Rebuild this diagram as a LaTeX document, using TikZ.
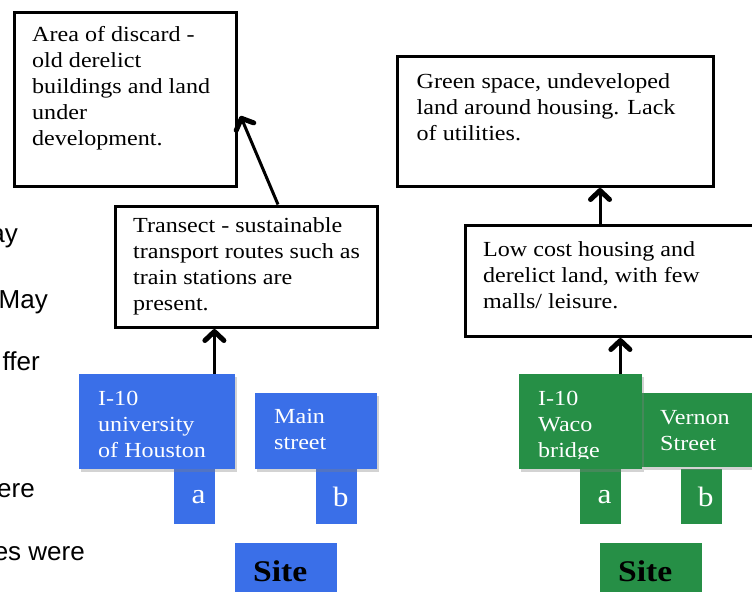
\documentclass[tikz,border=0pt]{standalone}
\usepackage{fontspec}
\setmainfont{Liberation Serif}[FakeStretch=1.12]
\newfontfamily\slidefont{Liberation Sans}
\usetikzlibrary{positioning,arrows.meta,shadows}
\definecolor{siteblue}{RGB}{58,111,232}
\definecolor{sitegreen}{RGB}{38,143,70}

\begin{document}
\begin{tikzpicture}[x=1pt,y=-1pt,
  box/.style={draw, line width=3pt, anchor=north west, inner sep=0pt},
  boxtext/.style={anchor=north west, align=left, inner sep=0pt, font=\fontsize{21.5}{26}\selectfont},
  sitebox/.style={anchor=north west, inner sep=0pt, drop shadow={opacity=0.35, shadow xshift=2pt, shadow yshift=-3pt}},
  sitetext/.style={boxtext, text=white},
  tab/.style={anchor=north west, inner sep=0pt, minimum width=41pt, minimum height=55pt, text=white, font=\fontsize{28}{28}\selectfont},
  label/.style={anchor=north west, inner sep=0pt, minimum width=102pt, minimum height=49pt},
  fragment/.style={anchor=base east, inner sep=0pt, font=\slidefont\fontsize{26}{26}\selectfont},
  up/.style={-{Straight Barb[length=9pt,width=19pt,line width=5pt,round]}, line width=3pt}]
\useasboundingbox (0,0) rectangle (752,592);

% cut-off slide text on the left
\node[fragment] (fa) at (18,242) {ay};
\node[fragment] (fb) at (48,308) {May};
\node[fragment] (fc) at (40,370) {ffer};
\node[fragment] (fd) at (35,497) {ere};
\node[fragment] (fe) at (85,560) {es were};

% white boxes
\node[box, minimum width=222pt, minimum height=174pt] (discard) at (12.5,10.5) {};
\node[boxtext] (discardtext) at ([shift={(19.5,16)}]discard.north west) {Area of discard -\\old derelict\\buildings and land\\under\\development.};
\node[box, minimum width=261.5pt, minimum height=121.5pt] (transect) at (114,204.5) {};
\node[boxtext] (transecttext) at ([shift={(19,13)}]transect.north west) {Transect - sustainable\\transport routes such as\\train stations are\\present.};
\node[box, minimum width=316pt, minimum height=130pt] (green) at (395.5,55) {};
\node[boxtext] (greentext) at ([shift={(21,18)}]green.north west) {Green space, undeveloped\\land around housing. Lack\\of utilities.};
\node[box, minimum width=320pt, minimum height=111.5pt] (lowcost) at (464,223.5) {};
\node[boxtext] (lowcosttext) at ([shift={(19,18)}]lowcost.north west) {Low cost housing and\\derelict land, with few\\malls/ leisure.};

% blue site
\node[tab, fill=siteblue] (taba) at (174,469) {\hspace*{8pt}a};
\node[tab, fill=siteblue] (tabb) at (316,469) {\hspace*{8pt}b};
\node[sitebox, fill=siteblue, minimum width=156pt, minimum height=95pt] (houston) at (79,374) {};
\node[sitetext] (houstontext) at ([shift={(19,17)}]houston.north west) {I-10\\university\\of Houston};
\node[sitebox, fill=siteblue, minimum width=122pt, minimum height=76pt] (main) at (255,393) {};
\node[sitetext] (maintext) at ([shift={(19,16)}]main.north west) {Main\\street};
\node[label, fill=siteblue] (siteblue) at (235,543) {};
\node[anchor=west, inner sep=0pt, font=\bfseries\fontsize{30}{30}\selectfont] (bluesite) at ([shift={(18,4)}]siteblue.west) {Site};

% green site
\node[tab, fill=sitegreen] (tabc) at (580,469) {\hspace*{8pt}a};
\node[tab, fill=sitegreen] (tabd) at (681,469) {\hspace*{8pt}b};
\node[sitebox, fill=sitegreen, minimum width=120pt, minimum height=74pt] (vernon) at (642,393) {};
\node[sitetext] (vernontext) at ([shift={(18,17)}]vernon.north west) {Vernon\\Street};
\node[sitebox, fill=sitegreen, minimum width=123pt, minimum height=95pt] (waco) at (519,374) {};
\begin{scope}
\clip (waco.north west) rectangle ([yshift=11pt]waco.south east);
\node[sitetext] (wacotext) at ([shift={(19,17)}]waco.north west) {I-10\\Waco\\bridge};
\end{scope}
\node[label, fill=sitegreen] (sitegreen) at (600,543) {};
\node[anchor=west, inner sep=0pt, font=\bfseries\fontsize{30}{30}\selectfont] (greensite) at ([shift={(18,4)}]sitegreen.west) {Site};

% arrows
\draw[up] ([xshift=-21pt]houston.north east) -- ([xshift=-21pt]houston.north east |- transect.south);
\draw[up] ([xshift=164pt]transect.north west) -- ([shift={(3,17)}]discard.east);
\draw[up] ([xshift=-22pt]waco.north east) -- ([xshift=-22pt]waco.north east |- lowcost.south);
\draw[up] ([xshift=136pt]lowcost.north west) -- ([xshift=136pt]lowcost.north west |- green.south);

\end{tikzpicture}
\end{document}
